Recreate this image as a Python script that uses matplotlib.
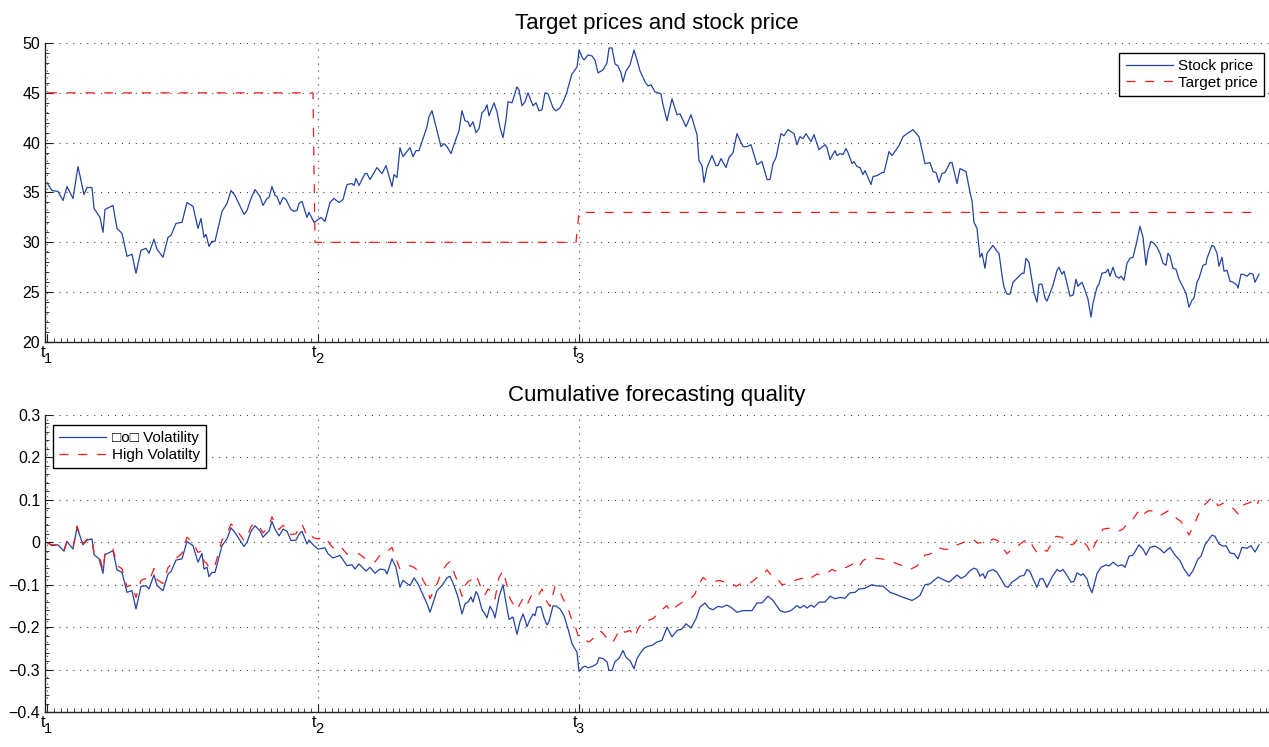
#!/usr/bin/env python3

"""
Target prices vs stock price, and cumulative forecasting quality.
"""

import matplotlib
matplotlib.use("Agg")
import matplotlib.pyplot as plt
from matplotlib.ticker import FixedLocator, FixedFormatter, MultipleLocator, NullFormatter
from matplotlib.transforms import blended_transform_factory, offset_copy

plt.rcParams["font.family"] = ["Liberation Sans", "DejaVu Sans"]
plt.rcParams["lines.scale_dashes"] = False

# x is in days counted from t1
event_days = [0, 271, 532]
event_names = ["t", "t", "t"]
event_subs = ["1", "2", "3"]

stock_days = [
    1, 5, 11, 16, 20, 26, 31, 37, 40, 45,
    47, 53, 56, 58, 66, 70, 75, 80, 85, 89,
    94, 99, 102, 107, 110, 116, 121, 124, 129, 135,
    140, 146, 151, 154, 157, 159, 162, 165, 168, 175,
    180, 184, 188, 197, 200, 204, 208, 213, 216, 220,
    222, 225, 228, 230, 233, 236, 239, 244, 247, 250,
    252, 255, 260, 262, 267, 270, 274, 278, 283, 287,
    292, 296, 300, 305, 307, 309, 312, 318, 320, 323,
    330, 335, 339, 345, 347, 350, 353, 356, 363, 366,
    369, 372, 380, 382, 385, 389, 394, 397, 400, 404,
    408, 412, 415, 418, 421, 423, 426, 429, 432, 435,
    438, 440, 442, 447, 450, 453, 456, 459, 461, 465,
    470, 472, 475, 478, 481, 486, 489, 492, 495, 498,
    501, 506, 509, 513, 517, 520, 521, 525, 528, 530,
    531, 532, 535, 537, 541, 545, 548, 551, 556, 560,
    562, 565, 568, 571, 574, 576, 579, 583, 587, 590,
    593, 598, 601, 604, 608, 614, 616, 620, 625, 630,
    633, 639, 644, 650, 652, 655, 657, 660, 665, 669,
    671, 674, 679, 682, 686, 690, 696, 700, 704, 710,
    715, 720, 723, 726, 729, 734, 737, 741, 747, 750,
    753, 756, 759, 764, 767, 772, 778, 780, 783, 788,
    790, 793, 796, 799, 801, 805, 807, 810, 813, 816,
    818, 824, 826, 830, 835, 837, 842, 845, 852, 856,
    860, 866, 872, 878, 883, 886, 889, 892, 895, 898,
    903, 905, 910, 913, 919, 923, 925, 927, 930, 933,
    935, 938, 940, 946, 950, 952, 955, 957, 960, 963,
    966, 971, 975, 977, 979, 982, 987, 990, 992, 995,
    998, 1000, 1006, 1010, 1012, 1015, 1017, 1020, 1023, 1026,
    1029, 1031, 1035, 1038, 1041, 1044, 1046, 1050, 1052, 1055,
    1059, 1061, 1063, 1066, 1069, 1072, 1074, 1077, 1080, 1083,
    1086, 1089, 1093, 1096, 1099, 1101, 1104, 1107, 1110, 1113,
    1116, 1119, 1121, 1123, 1126, 1129, 1132, 1136, 1139, 1142,
    1145, 1147, 1150, 1152, 1156, 1159, 1160, 1165, 1167, 1170,
    1172, 1175, 1177, 1180, 1183, 1186, 1190, 1191, 1194, 1196,
    1200, 1203, 1206, 1208, 1212,
]
stock_price = [
    35.8, 35.2, 35.1, 34.2, 35.6, 34.4, 37.6, 34.8, 35.5, 35.5,
    33.4, 32.5, 31.0, 33.3, 33.7, 31.4, 30.9, 28.6, 28.8, 26.9,
    29.2, 29.4, 28.9, 30.3, 29.3, 28.5, 30.5, 30.7, 31.9, 32.0,
    34.0, 33.6, 31.4, 32.4, 30.5, 30.8, 29.6, 30.1, 30.1, 33.1,
    33.9, 35.2, 34.7, 32.8, 33.2, 34.4, 35.3, 34.6, 33.7, 34.4,
    34.5, 35.6, 34.7, 34.6, 33.8, 34.5, 34.3, 33.3, 33.1, 33.2,
    33.9, 34.1, 32.5, 33.0, 32.0, 32.2, 32.5, 32.1, 34.0, 34.4,
    34.0, 34.3, 35.8, 35.9, 35.7, 36.4, 35.7, 36.9, 36.9, 36.3,
    37.5, 36.9, 37.7, 35.6, 36.8, 36.5, 39.5, 38.6, 39.5, 38.6,
    39.2, 39.2, 41.6, 42.6, 43.2, 41.6, 39.6, 39.9, 39.6, 38.9,
    40.1, 41.2, 43.2, 42.2, 42.1, 41.6, 42.1, 41.0, 41.4, 43.0,
    43.3, 43.8, 42.7, 44.0, 43.1, 41.5, 40.5, 42.3, 44.1, 44.0,
    45.6, 45.3, 43.7, 44.1, 45.0, 43.7, 44.0, 43.2, 43.3, 45.0,
    44.9, 43.5, 43.2, 43.5, 44.3, 45.1, 45.5, 46.9, 47.3, 47.6,
    48.3, 49.3, 48.6, 48.3, 48.8, 48.7, 48.3, 47.0, 47.3, 48.0,
    49.5, 49.5, 47.9, 47.7, 47.0, 46.1, 47.2, 47.8, 49.3, 48.3,
    47.2, 46.1, 45.7, 45.8, 45.1, 44.9, 43.8, 42.2, 44.4, 42.8,
    42.9, 41.6, 42.8, 40.8, 38.2, 37.7, 36.0, 37.5, 38.7, 37.7,
    37.7, 38.4, 37.5, 38.5, 39.0, 40.9, 39.6, 39.6, 39.8, 37.8,
    38.1, 36.3, 36.3, 37.9, 38.5, 40.9, 40.7, 41.3, 40.9, 39.8,
    40.6, 40.4, 40.9, 40.1, 40.8, 39.3, 39.8, 39.5, 38.3, 39.2,
    38.7, 38.9, 38.8, 39.4, 39.0, 37.9, 38.1, 37.6, 37.5, 36.8,
    37.2, 35.8, 36.6, 36.7, 37.0, 37.0, 39.1, 38.7, 39.7, 40.6,
    40.9, 41.3, 40.6, 37.9, 38.0, 37.1, 37.0, 36.0, 36.9, 37.0,
    38.0, 38.0, 35.9, 37.4, 37.1, 35.0, 34.2, 32.0, 31.4, 28.5,
    28.9, 27.4, 28.9, 29.7, 29.1, 28.9, 26.7, 25.5, 24.8, 24.8,
    26.0, 26.5, 26.9, 26.9, 28.4, 28.0, 24.9, 24.0, 25.8, 25.8,
    24.4, 24.1, 25.7, 27.2, 27.5, 26.8, 27.1, 25.9, 24.6, 24.7,
    26.3, 25.6, 26.0, 25.2, 24.3, 22.5, 23.9, 25.5, 25.8, 26.9,
    27.0, 27.3, 26.6, 27.5, 26.6, 26.4, 26.6, 26.2, 27.9, 28.4,
    28.5, 29.7, 31.6, 30.5, 27.7, 29.1, 30.1, 29.9, 29.5, 28.9,
    27.9, 27.7, 28.9, 28.6, 27.4, 27.3, 26.3, 25.5, 24.9, 23.5,
    24.2, 24.4, 26.0, 26.4, 27.7, 27.8, 28.4, 29.7, 29.6, 28.9,
    27.6, 28.5, 27.1, 27.2, 26.1, 26.0, 25.7, 25.4, 26.8, 26.8,
    26.6, 26.9, 26.8, 26.0, 26.8,
]

target_days = [1, 266, 268, 529, 532, 1212]
target_price = [45, 45, 30, 30, 33, 33]

low_days = [
    1, 5, 11, 17, 20, 26, 30, 36, 40, 45,
    47, 52, 56, 58, 66, 70, 75, 80, 85, 89,
    94, 99, 102, 107, 110, 116, 121, 124, 129, 135,
    140, 146, 151, 155, 157, 160, 162, 165, 168, 175,
    180, 184, 188, 197, 200, 204, 208, 213, 216, 222,
    225, 228, 232, 236, 240, 244, 249, 252, 255, 260,
    262, 267, 271, 278, 281, 286, 293, 300, 305, 308,
    312, 319, 323, 328, 333, 338, 340, 345, 349, 353,
    356, 363, 367, 371, 380, 383, 390, 395, 400, 403,
    407, 411, 415, 418, 421, 424, 426, 429, 431,
    435, 437, 440, 443, 446, 448, 452, 456, 458, 462,
    466, 470, 473, 476, 478, 480, 483, 486, 488, 490,
    494, 497, 500, 502, 506, 509, 513, 517, 521, 525,
    528, 530, 532, 536, 538, 541, 546, 550, 552, 556,
    560, 562, 565, 568, 572, 576, 579, 583, 587, 590,
    594, 597, 601, 605, 610, 615, 620, 625, 630, 635,
    639, 644, 649, 653, 658, 662, 666, 671, 675, 680,
    685, 690, 696, 705, 710, 715, 721, 726, 733, 738,
    744, 750, 753, 757, 760, 764, 767, 772, 778, 783,
    788, 793, 798, 803, 808, 812, 817,
    825, 830, 836, 843, 848, 853, 860, 865, 869, 873,
    878, 883, 887, 891, 896, 902, 906, 910, 914, 918,
    923, 927, 930, 933, 936, 938, 941, 946, 950, 954,
    958, 961, 965, 970, 973, 977, 980, 983, 986, 990,
    993, 996, 1000, 1005, 1010, 1013, 1016, 1020, 1024, 1027,
    1030, 1034, 1036, 1040, 1042, 1045, 1050, 1054, 1059, 1062,
    1066, 1071, 1075, 1078, 1082, 1086, 1092, 1096, 1099, 1103,
    1108, 1113, 1117, 1123, 1128, 1133, 1137, 1142, 1146, 1151,
    1154, 1158, 1161, 1165, 1168, 1172, 1176, 1179, 1183, 1187,
    1191, 1195, 1200, 1204, 1208, 1212,
]
low_quality = [
    -0.002, -0.008, -0.006, -0.021, 0.002, -0.016, 0.035, -0.006, 0.005, 0.008,
    -0.029, -0.039, -0.073, -0.029, -0.020, -0.065, -0.071, -0.118, -0.114, -0.157,
    -0.104, -0.102, -0.110, -0.077, -0.102, -0.114, -0.075, -0.069, -0.042, -0.039,
    0.002, -0.008, -0.047, -0.026, -0.063, -0.059, -0.081, -0.071, -0.071, -0.008,
    0.008, 0.034, 0.023, -0.010, 0.000, 0.026, 0.039, 0.027, 0.012, 0.027,
    0.049, 0.031, 0.015, 0.031, 0.026, 0.004, 0.005, 0.019, 0.026, -0.004,
    0.005, -0.008, -0.016, -0.013, -0.027, -0.037, -0.031, -0.055, -0.053, -0.063,
    -0.051, -0.068, -0.059, -0.073, -0.063, -0.065, -0.075, -0.039, -0.059, -0.106,
    -0.090, -0.102, -0.084, -0.098, -0.145, -0.165, -0.114, -0.102, -0.084, -0.080,
    -0.102, -0.129, -0.169, -0.145, -0.141, -0.129, -0.141, -0.116, -0.124,
    -0.159, -0.165, -0.178, -0.151, -0.163, -0.178, -0.129, -0.100, -0.129, -0.182,
    -0.176, -0.217, -0.187, -0.169, -0.182, -0.199, -0.182, -0.169, -0.173, -0.153,
    -0.152, -0.178, -0.195, -0.187, -0.150, -0.150, -0.157, -0.173, -0.204, -0.239,
    -0.251, -0.259, -0.304, -0.294, -0.292, -0.296, -0.292, -0.286, -0.272, -0.274,
    -0.282, -0.302, -0.302, -0.281, -0.274, -0.255, -0.271, -0.279, -0.298, -0.274,
    -0.259, -0.250, -0.245, -0.243, -0.235, -0.231, -0.200, -0.223, -0.208, -0.204,
    -0.192, -0.202, -0.180, -0.153, -0.143, -0.155, -0.159, -0.151, -0.153, -0.148,
    -0.155, -0.165, -0.161, -0.161, -0.143, -0.143, -0.127, -0.137, -0.161, -0.165,
    -0.161, -0.149, -0.155, -0.149, -0.155, -0.148, -0.153, -0.141, -0.141, -0.127,
    -0.133, -0.130, -0.132, -0.119, -0.118, -0.110, -0.109,
    -0.100, -0.103, -0.103, -0.118, -0.122, -0.127, -0.133, -0.137, -0.132, -0.125,
    -0.100, -0.098, -0.090, -0.082, -0.088, -0.094, -0.086, -0.077, -0.085, -0.080,
    -0.067, -0.061, -0.064, -0.080, -0.074, -0.085, -0.069, -0.064, -0.071, -0.086,
    -0.103, -0.106, -0.094, -0.086, -0.080, -0.078, -0.064, -0.069, -0.086, -0.106,
    -0.086, -0.086, -0.106, -0.082, -0.064, -0.069, -0.064, -0.078, -0.094, -0.092,
    -0.072, -0.078, -0.074, -0.086, -0.103, -0.119, -0.074, -0.059, -0.053, -0.056,
    -0.047, -0.056, -0.053, -0.059, -0.033, -0.030, -0.006, -0.016, -0.030, -0.012,
    -0.009, -0.016, -0.025, -0.012, -0.030, -0.043, -0.063, -0.080, -0.067, -0.039,
    -0.033, -0.006, 0.004, 0.017, 0.014, -0.004, -0.009, -0.008, -0.025, -0.027,
    -0.039, -0.012, -0.014, -0.008, -0.023, -0.006,
]

high_days = [
    1, 5, 11, 17, 20, 26, 30, 36, 40, 45,
    47, 52, 56, 58, 66, 70, 75, 80, 85, 89,
    94, 99, 102, 107, 110, 116, 121, 124, 129, 135,
    140, 146, 151, 155, 157, 160, 162, 165, 168, 175,
    180, 184, 188, 197, 200, 204, 208, 213, 216, 222,
    225, 228, 232, 236, 240, 244, 249, 252, 255, 260,
    262, 267, 271, 278, 281, 286, 293, 300, 305, 308,
    312, 319, 323, 328, 333, 338, 340, 345, 349, 353,
    356, 363, 367, 371, 380, 383, 390, 395, 400, 403,
    407, 411, 415, 418, 421, 425, 429, 431, 435, 438,
    441, 446, 448, 452, 456, 460, 463, 466, 470, 473,
    476, 480, 485, 488, 491, 495, 500, 503, 508, 511,
    516, 520, 525, 528, 531, 535, 538, 542, 546, 550,
    554, 558, 562, 566, 570, 574, 578, 583, 588, 591,
    596, 601, 606, 610, 615, 620, 623, 626, 633, 638,
    644, 648, 651, 656, 660, 666, 672, 677, 683, 689,
    695, 701, 705, 710, 716, 720, 725, 730, 735, 740,
    745, 750, 755, 758, 763, 770, 775, 780, 785, 790,
    795, 801, 806, 811, 816, 820, 831, 837, 846, 853,
    863, 870, 878, 883, 891, 896, 903, 910, 915, 920,
    925, 931, 936, 941, 946, 951, 956, 960, 966, 971,
    976, 981, 985, 990, 995, 1000, 1004, 1009, 1015, 1019,
    1023, 1027, 1031, 1035, 1040, 1044, 1048, 1052, 1056, 1061,
    1068, 1072, 1076, 1081, 1086, 1093, 1097, 1101, 1106, 1113,
    1118, 1121, 1128, 1134, 1139, 1142, 1148, 1151, 1156, 1160,
    1165, 1168, 1171, 1176, 1181, 1187, 1191, 1196, 1201, 1206,
    1210, 1212,
]
high_quality = [
    -0.002, -0.006, -0.006, -0.018, 0.004, -0.012, 0.038, -0.003, 0.007, 0.010,
    -0.025, -0.030, -0.065, -0.025, -0.015, -0.055, -0.062, -0.105, -0.100, -0.130,
    -0.090, -0.085, -0.092, -0.062, -0.088, -0.097, -0.060, -0.052, -0.038, -0.026,
    0.012, 0.000, -0.024, -0.020, -0.045, -0.050, -0.062, -0.058, -0.055, 0.005,
    0.020, 0.043, 0.035, 0.004, 0.012, 0.037, 0.045, 0.035, 0.022, 0.040,
    0.060, 0.045, 0.030, 0.040, 0.034, 0.018, 0.020, 0.035, 0.043, 0.015,
    0.020, 0.010, 0.008, 0.012, 0.002, -0.013, -0.008, -0.028, -0.027, -0.027,
    -0.027, -0.040, -0.044, -0.046, -0.031, -0.024, -0.022, -0.012, -0.039, -0.063,
    -0.063, -0.055, -0.059, -0.067, -0.106, -0.133, -0.098, -0.069, -0.051, -0.046,
    -0.071, -0.096, -0.127, -0.102, -0.093, -0.087, -0.077, -0.088, -0.114, -0.124,
    -0.110, -0.119, -0.133, -0.083, -0.067, -0.102, -0.133, -0.145, -0.159, -0.145,
    -0.133, -0.148, -0.122, -0.122, -0.127, -0.110, -0.141, -0.151, -0.104, -0.106,
    -0.133, -0.149, -0.184, -0.196, -0.220, -0.231, -0.231, -0.235, -0.227, -0.213,
    -0.210, -0.220, -0.235, -0.235, -0.218, -0.204, -0.212, -0.208, -0.223, -0.204,
    -0.187, -0.184, -0.180, -0.171, -0.159, -0.149, -0.163, -0.157, -0.145, -0.137,
    -0.132, -0.122, -0.102, -0.083, -0.090, -0.093, -0.090, -0.093, -0.094, -0.104,
    -0.096, -0.098, -0.093, -0.083, -0.075, -0.065, -0.080, -0.085, -0.100, -0.098,
    -0.094, -0.088, -0.085, -0.090, -0.085, -0.075, -0.077, -0.073, -0.064, -0.069,
    -0.063, -0.057, -0.051, -0.061, -0.043, -0.038, -0.038, -0.040, -0.047, -0.053,
    -0.064, -0.056, -0.030, -0.028, -0.012, -0.016, -0.017, -0.006, -0.002, 0.004,
    0.008, -0.002, 0.000, 0.001, 0.008, 0.004, -0.014, -0.027, -0.014, -0.008,
    0.001, 0.008, -0.006, -0.025, -0.017, -0.021, -0.006, 0.014, 0.012, 0.000,
    -0.006, -0.004, 0.009, 0.004, -0.008, -0.027, -0.004, 0.012, 0.031, 0.033,
    0.031, 0.027, 0.031, 0.047, 0.055, 0.078, 0.067, 0.074, 0.074, 0.063,
    0.070, 0.074, 0.059, 0.049, 0.031, 0.017, 0.047, 0.063, 0.085, 0.094,
    0.106, 0.100, 0.086, 0.092, 0.088, 0.078, 0.067, 0.088, 0.092, 0.097,
    0.086, 0.100,
]

price_ticks = [20, 25, 30, 35, 40, 45, 50]
quality_ticks = [-0.4, -0.3, -0.2, -0.1, 0.0, 0.1, 0.2, 0.3]
quality_labels = ["\u22120.4", "\u22120.3", "\u22120.2", "\u22120.1", "0", "0.1", "0.2", "0.3"]

assert len(stock_days) == len(stock_price)
assert len(low_days) == len(low_quality)
assert len(high_days) == len(high_quality)

BLUE = "#2443a3"
RED = "#f21c1c"
DASH = (0, (6.5, 7.0))
DOTS = (0, (0.8, 4.2))


def _event_labels(ax):
    # "t" with a large, low subscript, like the original export
    trans = blended_transform_factory(ax.transData, ax.transAxes)
    for day, name, sub in zip(event_days, event_names, event_subs):
        ax.text(day, 0, name, transform=offset_copy(trans, fig=ax.figure, x=-3, y=-2, units="points"),
                ha="center", va="top", fontsize=11.5)
        ax.text(day, 0, sub, transform=offset_copy(trans, fig=ax.figure, x=0.6, y=-7.5, units="points"),
                ha="center", va="top", fontsize=10.5)


def _style(ax):
    ax.spines["top"].set_visible(False)
    ax.spines["right"].set_visible(False)
    for side in ("left", "bottom"):
        ax.spines[side].set_linewidth(1.0)
        ax.spines[side].set_color("#222222")

    ax.set_xlim(-2, 1222)
    ax.xaxis.set_major_locator(FixedLocator(event_days))
    ax.xaxis.set_major_formatter(NullFormatter())
    ax.xaxis.set_minor_locator(MultipleLocator(271 / 40))

    ax.tick_params(which="both", direction="in", colors="#222222",
                   labelcolor="black", labelsize=11.5)
    ax.tick_params(which="major", length=6, width=0.8)
    ax.tick_params(which="minor", length=3, width=0.6)

    ax.grid(True, which="major", color="#444444", linewidth=0.8, linestyle=DOTS)
    ax.set_axisbelow(True)
    _event_labels(ax)


def _legend(ax, loc, anchor):
    leg = ax.legend(loc=loc, bbox_to_anchor=anchor, borderaxespad=0,
                    fontsize=11, fancybox=False, framealpha=1,
                    edgecolor="black", handlelength=3.1, handletextpad=0.35,
                    labelspacing=0.18, borderpad=0.4)
    leg.get_frame().set_linewidth(1.0)


fig = plt.figure(figsize=(12.69, 7.47), dpi=100)
ax_price = fig.add_axes([0.03546, 0.54217, 0.96454, 0.40027])
ax_quality = fig.add_axes([0.03546, 0.04685, 0.96454, 0.39759])

# top panel
ax_price.plot(stock_days, stock_price, color=BLUE, linewidth=0.9, label="Stock price")
ax_price.plot(target_days, target_price, color=RED, linewidth=0.9,
              linestyle=DASH, label="Target price")
ax_price.set_ylim(20, 50)
ax_price.yaxis.set_major_locator(FixedLocator(price_ticks))
ax_price.yaxis.set_minor_locator(MultipleLocator(1))
_style(ax_price)
ax_price.set_title("Target prices and stock price", fontsize=16, pad=10)
_legend(ax_price, "upper right", (0.996, 0.967))

# bottom panel
ax_quality.plot(low_days, low_quality, color=BLUE, linewidth=0.9,
                label="\u25a1o\u25a1 Volatility")
ax_quality.plot(high_days, high_quality, color=RED, linewidth=0.9,
                linestyle=DASH, label="High Volatilty")
ax_quality.set_ylim(-0.4, 0.3)
ax_quality.yaxis.set_major_locator(FixedLocator(quality_ticks))
ax_quality.yaxis.set_major_formatter(FixedFormatter(quality_labels))
ax_quality.yaxis.set_minor_locator(MultipleLocator(0.02))
_style(ax_quality)
ax_quality.set_title("Cumulative forecasting quality", fontsize=16, pad=10)
_legend(ax_quality, "upper left", (0.0065, 0.966))

fig.savefig("out.png", dpi=100)
